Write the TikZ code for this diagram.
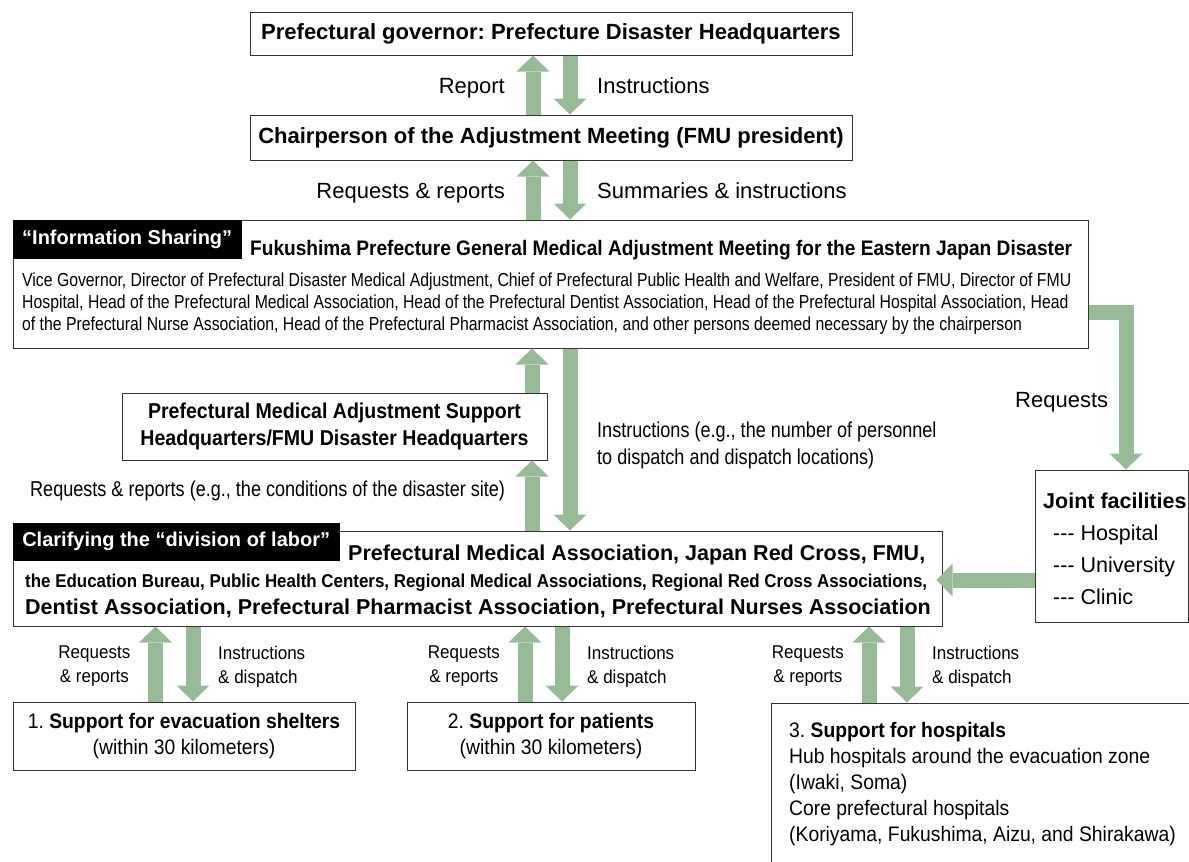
\documentclass[tikz,border=0pt]{standalone}
\usepackage{fontspec}
\setmainfont{Liberation Sans}
\newfontfamily\condfamily[FakeStretch=0.91]{Liberation Sans}
\newfontfamily\narrowfamily[FakeStretch=0.84]{Liberation Sans}
\newfontfamily\semifamily[FakeStretch=0.92]{Liberation Sans}
\usetikzlibrary{arrows.meta}
\definecolor{arrowgreen}{RGB}{150,187,150}
\frenchspacing

\tikzset{
  box/.style={draw=black!80, line width=1pt, fill=white, inner sep=0pt},
  tab/.style={fill=black, text=white, inner sep=0pt, anchor=north west,
    font=\fontsize{20}{24}\selectfont\bfseries},
  fat/.style={draw=arrowgreen, line width=15pt,
    -{Triangle[width=33pt,length=16pt,line width=0pt]}},
  headfont/.style={font=\fontsize{22}{26}\selectfont\bfseries},
  lbl/.style={inner sep=0pt, font=\fontsize{22}{26}\selectfont},
  narrowlbl/.style={inner sep=0pt, font=\narrowfamily\fontsize{21.5}{27}\selectfont},
  sublbl/.style={inner sep=0pt, font=\semifamily\fontsize{18.5}{24}\selectfont},
  boxtext/.style={font=\semifamily\fontsize{21}{26}\selectfont},
}

\begin{document}
\begin{tikzpicture}[x=1pt,y=-1pt]
  \useasboundingbox (0,0) rectangle (1189,862);
  % headquarters and chairperson
  \node[box, headfont, minimum width=602pt, minimum height=43pt] (gov) at (551,33.5)
    {Prefectural governor: Prefecture Disaster Headquarters};
  \node[box, headfont, minimum width=602pt, minimum height=45pt] (chair) at (551,137.5)
    {Chairperson of the Adjustment Meeting (FMU president)};
  % adjustment meeting
  \node[box, minimum width=1075pt, minimum height=128pt] (meet) at (550.5,284) {};
  \node[tab, minimum width=229pt, minimum height=39pt] (sharetab) at (meet.north west)
    {“Information Sharing”};
  \node[anchor=base west, inner sep=0pt, font=\condfamily\fontsize{21}{25}\selectfont\bfseries]
    (meettitle) at (250,255)
    {Fukushima Prefecture General Medical Adjustment Meeting for the Eastern Japan Disaster};
  \node[anchor=north west, align=left, inner sep=0pt,
    font=\narrowfamily\fontsize{18.8}{22}\selectfont] (members) at (22,272.5)
    {Vice Governor, Director of Prefectural Disaster Medical Adjustment, Chief of Prefectural Public Health and Welfare, President of FMU, Director of FMU\\
     Hospital, Head of the Prefectural Medical Association, Head of the Prefectural Dentist Association, Head of the Prefectural Hospital Association, Head\\
     of the Prefectural Nurse Association, Head of the Prefectural Pharmacist Association, and other persons deemed necessary by the chairperson};
  % support headquarters
  \node[box, align=center, minimum width=425pt, minimum height=67pt,
    font=\condfamily\fontsize{21.5}{27}\selectfont\bfseries] (supporthq) at (334.5,426.5)
    {Prefectural Medical Adjustment Support\\Headquarters/FMU Disaster Headquarters};
  % joint facilities
  \node[box, minimum width=153pt, minimum height=152pt] (joint) at (1111.5,546) {};
  \node[anchor=north west, align=left, inner sep=0pt, font=\fontsize{21.5}{32}\selectfont]
    (jointlist) at (1043,492.6)
    {\textbf{Joint facilities}\\\hspace*{10pt}-{}-{}- Hospital\\\hspace*{10pt}-{}-{}- University\\\hspace*{10pt}-{}-{}- Clinic};
  % associations
  \node[box, minimum width=929pt, minimum height=95pt] (assoc) at (477.5,578.5) {};
  \node[tab, minimum width=327pt, minimum height=38pt] (labortab) at ([yshift=8pt]assoc.north west)
    {Clarifying the “division of labor”};
  \node[anchor=base west, inner sep=0pt, font=\fontsize{21.5}{26}\selectfont\bfseries]
    (assocmain) at (348,560) {Prefectural Medical Association, Japan Red Cross, FMU,};
  \node[anchor=base west, inner sep=0pt, font=\condfamily\fontsize{18.6}{22}\selectfont\bfseries]
    (assocregion) at (25,587)
    {the Education Bureau, Public Health Centers, Regional Medical Associations, Regional Red Cross Associations,};
  \node[anchor=base west, inner sep=0pt, font=\fontsize{21.5}{26}\selectfont\bfseries]
    (assocpharm) at (25,614)
    {Dentist Association, Prefectural Pharmacist Association, Prefectural Nurses Association};
  % support targets
  \node[box, boxtext, align=center, minimum width=342pt, minimum height=68pt] (shelter) at (184,736)
    {1. \textbf{Support for evacuation shelters}\\(within 30 kilometers)};
  \node[box, boxtext, align=center, minimum width=288pt, minimum height=68pt] (patient) at (551,736)
    {2. \textbf{Support for patients}\\(within 30 kilometers)};
  \node[box, minimum width=424pt, minimum height=167pt] (hosp) at (983,786.5) {};
  \node[boxtext, anchor=north west, align=left, inner sep=0pt] (hosplist) at (789,721.7)
    {3. \textbf{Support for hospitals}\\Hub hospitals around the evacuation zone\\(Iwaki, Soma)\\Core prefectural hospitals\\(Koriyama, Fukushima, Aizu, and Shirakawa)};

  % upper arrows
  \draw[fat] (533,0 |- chair.north) -- (533,0 |- gov.south);
  \draw[fat] (570,0 |- gov.south) -- (570,0 |- chair.north);
  \draw[fat] (533,0 |- meet.north) -- (533,0 |- chair.south);
  \draw[fat] (570,0 |- chair.south) -- (570,0 |- meet.north);
  \node[lbl, anchor=base east] (reportlbl) at (505,93) {Report};
  \node[lbl, anchor=base west] (instrlbl) at (597,93) {Instructions};
  \node[lbl, anchor=base east] (reqreplbl) at (505,198) {Requests \& reports};
  \node[lbl, anchor=base west] (summlbl) at (597,198) {Summaries \& instructions};

  % meeting <-> associations
  \draw[fat] (532,0 |- assoc.north) -- (532,0 |- supporthq.south);
  \draw[fat] (532,0 |- supporthq.north) -- (532,0 |- meet.south);
  \draw[fat] (570,0 |- meet.south) -- (570,0 |- assoc.north);
  \node[narrowlbl, anchor=north west, align=left] (dispatchlbl) at (597,421.6)
    {Instructions (e.g., the number of personnel\\to dispatch and dispatch locations)};
  \node[narrowlbl, anchor=base west] (sitelbl) at (30,496)
    {Requests \& reports (e.g., the conditions of the disaster site)};

  % joint facilities
  \coordinate (reqbend) at (1126,312.5);
  \coordinate (jointrow) at (0,580);
  \draw[fat, line join=miter] (reqbend -| meet.east) -- (reqbend) -- (reqbend |- joint.north);
  \node[lbl, anchor=base west] (jointreq) at (1015,407) {Requests};
  \draw[fat, shorten >=-6pt] (jointrow -| joint.west) -- (jointrow -| assoc.east);

  % lower arrows
  \foreach \bx/\upx/\dnx in {shelter/155.5/193, patient/525/562, hosp/869/907} {
    \draw[fat] (\upx,0 |- \bx.north) -- (\upx,0 |- assoc.south);
    \draw[fat] (\dnx,0 |- assoc.south) -- (\dnx,0 |- \bx.north);
    \node[sublbl, align=center, anchor=north east] (req-\bx) at (\upx-25,645.8) {Requests\\\& reports};
    \node[sublbl, align=left, anchor=north west] (ins-\bx) at (\dnx+25,645.8) {Instructions\\\& dispatch};
  }
\end{tikzpicture}
\end{document}
